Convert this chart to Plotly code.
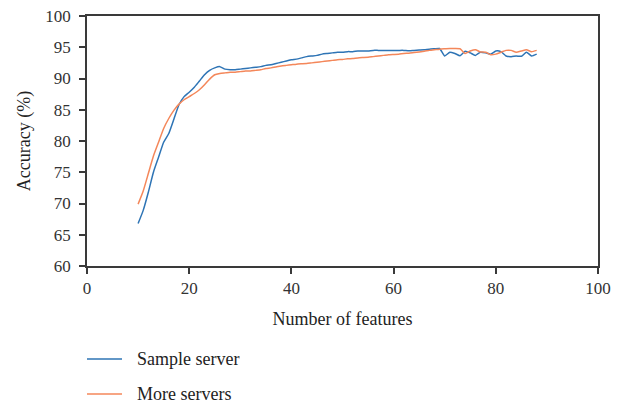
import plotly.graph_objects as go

# Number of features evaluated (x axis)
features = list(range(10, 89))

# Accuracy (%) with a single sample server
sample_server = [
    66.8, 68.9, 71.8, 75.0, 77.4, 79.8, 81.2, 83.5, 85.8, 87.1,
    87.8, 88.6, 89.6, 90.6, 91.3, 91.7, 91.9, 91.5, 91.4, 91.4,
    91.5, 91.6, 91.7, 91.8, 91.9, 92.1, 92.2, 92.4, 92.6, 92.8,
    93.0, 93.1, 93.3, 93.5, 93.6, 93.7, 93.9, 94.0, 94.1, 94.2,
    94.2, 94.3, 94.3, 94.4, 94.4, 94.4, 94.5, 94.5, 94.5, 94.5,
    94.5, 94.5, 94.5, 94.45, 94.5, 94.55, 94.6, 94.7, 94.75, 94.8,
    93.6, 94.2, 94.0, 93.65, 94.35, 94.1, 93.7, 94.2, 94.1, 93.9,
    94.4, 94.3, 93.6, 93.5, 93.6, 93.55, 94.2, 93.6, 93.9,
]

# Accuracy (%) with more servers
more_servers = [
    69.9, 72.0, 74.8, 77.6, 79.8, 82.0, 83.6, 84.9, 85.9, 86.6,
    87.1, 87.6, 88.2, 89.0, 89.9, 90.6, 90.8, 90.9, 91.0, 91.0,
    91.1, 91.2, 91.2, 91.3, 91.4, 91.6, 91.7, 91.85, 92.0, 92.1,
    92.2, 92.3, 92.35, 92.4, 92.5, 92.6, 92.7, 92.8, 92.9, 93.0,
    93.05, 93.15, 93.2, 93.3, 93.35, 93.4, 93.5, 93.6, 93.7, 93.8,
    93.85, 93.9, 94.0, 94.05, 94.15, 94.25, 94.35, 94.5, 94.6, 94.7,
    94.75, 94.8, 94.8, 94.75, 94.0, 94.4, 94.6, 94.25, 94.2, 93.8,
    93.9, 94.2, 94.5, 94.5, 94.2, 94.4, 94.6, 94.3, 94.5,
]

series_names = ["Sample server", "More servers"]
x_ticks = [0, 20, 40, 60, 80, 100]
y_ticks = [60, 65, 70, 75, 80, 85, 90, 95, 100]

BLUE = "#2E74B5"
ORANGE = "#F4875A"
AXIS = "#3a3a3a"
FONT = "Liberation Serif"
colors = [BLUE, ORANGE]

fig = go.Figure()
for name, values, color in zip(series_names, [sample_server, more_servers], colors):
    fig.add_trace(go.Scatter(
        x=features, y=values, mode="lines", name=name, showlegend=False,
        line=dict(color=color, width=1.5, shape="spline", smoothing=0.5),
    ))

axis_common = dict(
    showgrid=False, zeroline=False,
    showline=True, linecolor=AXIS, linewidth=1.5, mirror=True,
    ticks="outside", ticklen=6, tickwidth=1.5, tickcolor=AXIS,
    tickfont=dict(family=FONT, size=17, color="#333333"),
    automargin=False,
)

fig.update_xaxes(
    range=[0, 100], tickvals=x_ticks,
    title=dict(text="Number of features", font=dict(family=FONT, size=18, color="#222222"),
               standoff=15),
    **axis_common,
)
fig.update_yaxes(
    range=[60, 100], tickvals=y_ticks, ticklabelstandoff=5,
    title=dict(text="Accuracy (%)", font=dict(family=FONT, size=18, color="#222222"),
               standoff=10),
    **axis_common,
)

# Legend drawn below the axes: a short line sample followed by the series name
legend_rows = [-0.372, -0.512]
for name, color, ly in zip(series_names, colors, legend_rows):
    fig.add_shape(type="line", xref="paper", yref="paper",
                  x0=0.0, x1=0.0685, y0=ly, y1=ly,
                  line=dict(color=color, width=1.5))
    fig.add_annotation(xref="paper", yref="paper", x=0.094, y=ly,
                       xanchor="left", yanchor="middle", showarrow=False,
                       text=name, font=dict(family=FONT, size=18, color="#222222"))

fig.update_layout(
    width=622, height=404,
    margin=dict(l=87, r=24, t=16, b=138),
    paper_bgcolor="white", plot_bgcolor="white",
    showlegend=False,
)

fig.write_html("out.html")
